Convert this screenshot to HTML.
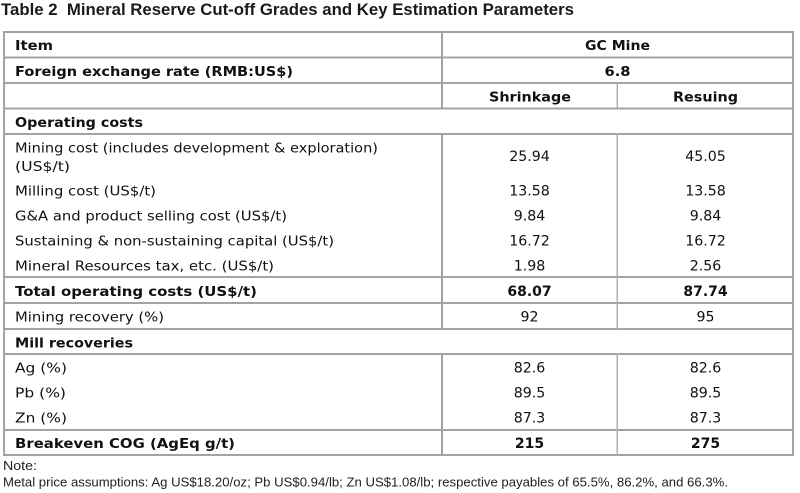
<!DOCTYPE html>
<html>
<head>
<meta charset="utf-8">
<style>
  html, body { margin:0; padding:0; background:#fff; }
  svg { display:block; }
  .t { font-family:"DejaVu Sans","Liberation Sans",sans-serif; font-size:13.5px; fill:#111; }
  .b { font-family:"DejaVu Sans","Liberation Sans",sans-serif; font-size:13.5px; font-weight:bold; fill:#111; }
  .n { font-family:"DejaVu Sans","Liberation Sans",sans-serif; font-size:14.2px; fill:#111; }
  .nb { font-family:"DejaVu Sans","Liberation Sans",sans-serif; font-size:14px; font-weight:bold; fill:#111; }
  .title { font-family:"Liberation Sans",sans-serif; font-size:16.5px; font-weight:bold; fill:#1a1a1a; }
  .note { font-family:"Liberation Sans",sans-serif; font-size:13px; fill:#222; }
</style>
</head>
<body>
<svg width="800" height="493" viewBox="0 0 800 493" xmlns="http://www.w3.org/2000/svg">
  <rect x="0" y="0" width="800" height="493" fill="#fff"/>

  <text class="title" x="1" y="15" textLength="573" lengthAdjust="spacingAndGlyphs">Table 2&#160; Mineral Reserve Cut-off Grades and Key Estimation Parameters</text>

  <!-- horizontal lines -->
  <g fill="#a3a3a3">
    <rect x="3" y="31" width="791" height="2"/>
    <rect x="3" y="56.5" width="791" height="2"/>
    <rect x="3" y="82" width="791" height="2"/>
    <rect x="3" y="107.5" width="791" height="2"/>
    <rect x="3" y="133" width="791" height="2"/>
    <rect x="3" y="276" width="791" height="2"/>
    <rect x="3" y="302" width="791" height="2"/>
    <rect x="3" y="328" width="791" height="2"/>
    <rect x="3" y="353" width="791" height="2"/>
    <rect x="3" y="429" width="791" height="2"/>
    <rect x="3" y="454" width="791" height="2"/>
    <!-- outer verticals -->
    <rect x="3" y="31" width="2" height="425"/>
    <rect x="792" y="31" width="2" height="425"/>
    <!-- col1 divider -->
    <rect x="441" y="31" width="2" height="77"/>
    <rect x="441" y="133" width="2" height="196"/>
    <rect x="441" y="353" width="2" height="103"/>
  </g>
  <g fill="#b0b0b0">
    <rect x="616.5" y="82" width="1.5" height="26"/>
    <rect x="616.5" y="133" width="1.5" height="196"/>
    <rect x="616.5" y="353" width="1.5" height="103"/>
  </g>

  <!-- header rows -->
  <text class="b" x="15" y="50" textLength="38" lengthAdjust="spacingAndGlyphs">Item</text>
  <text class="b" x="617.5" y="50" text-anchor="middle" textLength="65" lengthAdjust="spacingAndGlyphs">GC Mine</text>
  <text class="b" x="15" y="76" textLength="278" lengthAdjust="spacingAndGlyphs">Foreign exchange rate (RMB:US$)</text>
  <text class="b" x="617.5" y="76" text-anchor="middle" textLength="26" lengthAdjust="spacingAndGlyphs">6.8</text>
  <text class="b" x="530" y="101.5" text-anchor="middle" textLength="82" lengthAdjust="spacingAndGlyphs">Shrinkage</text>
  <text class="b" x="705.5" y="101.5" text-anchor="middle" textLength="65" lengthAdjust="spacingAndGlyphs">Resuing</text>
  <text class="b" x="15" y="127" textLength="128" lengthAdjust="spacingAndGlyphs">Operating costs</text>

  <!-- operating block -->
  <text class="t" x="15" y="152.5" textLength="363" lengthAdjust="spacingAndGlyphs">Mining cost (includes development &amp; exploration)</text>
  <text class="t" x="15" y="171" textLength="55" lengthAdjust="spacingAndGlyphs">(US$/t)</text>
  <text class="n" x="529.5" y="161" text-anchor="middle">25.94</text>
  <text class="n" x="705.5" y="161" text-anchor="middle">45.05</text>

  <text class="t" x="15" y="195.5" textLength="141" lengthAdjust="spacingAndGlyphs">Milling cost (US$/t)</text>
  <text class="n" x="529.5" y="195.5" text-anchor="middle">13.58</text>
  <text class="n" x="705.5" y="195.5" text-anchor="middle">13.58</text>

  <text class="t" x="15" y="220.5" textLength="272" lengthAdjust="spacingAndGlyphs">G&amp;A and product selling cost (US$/t)</text>
  <text class="n" x="529.5" y="220.5" text-anchor="middle">9.84</text>
  <text class="n" x="705.5" y="220.5" text-anchor="middle">9.84</text>

  <text class="t" x="15" y="245.5" textLength="319" lengthAdjust="spacingAndGlyphs">Sustaining &amp; non-sustaining capital (US$/t)</text>
  <text class="n" x="529.5" y="245.5" text-anchor="middle">16.72</text>
  <text class="n" x="705.5" y="245.5" text-anchor="middle">16.72</text>

  <text class="t" x="15" y="270.5" textLength="259" lengthAdjust="spacingAndGlyphs">Mineral Resources tax, etc. (US$/t)</text>
  <text class="n" x="529.5" y="270.5" text-anchor="middle">1.98</text>
  <text class="n" x="705.5" y="270.5" text-anchor="middle">2.56</text>

  <!-- totals -->
  <text class="b" x="15" y="296" textLength="242" lengthAdjust="spacingAndGlyphs">Total operating costs (US$/t)</text>
  <text class="nb" x="529.5" y="296" text-anchor="middle">68.07</text>
  <text class="nb" x="705.5" y="296" text-anchor="middle">87.74</text>

  <text class="t" x="15" y="321.5" textLength="149" lengthAdjust="spacingAndGlyphs">Mining recovery (%)</text>
  <text class="n" x="529.5" y="321.5" text-anchor="middle">92</text>
  <text class="n" x="705.5" y="321.5" text-anchor="middle">95</text>

  <text class="b" x="15" y="347.5" textLength="118" lengthAdjust="spacingAndGlyphs">Mill recoveries</text>

  <text class="t" x="15" y="372.5" textLength="52" lengthAdjust="spacingAndGlyphs">Ag (%)</text>
  <text class="n" x="529.5" y="372.5" text-anchor="middle">82.6</text>
  <text class="n" x="705.5" y="372.5" text-anchor="middle">82.6</text>

  <text class="t" x="15" y="397.5" textLength="51" lengthAdjust="spacingAndGlyphs">Pb (%)</text>
  <text class="n" x="529.5" y="397.5" text-anchor="middle">89.5</text>
  <text class="n" x="705.5" y="397.5" text-anchor="middle">89.5</text>

  <text class="t" x="15" y="422.5" textLength="52" lengthAdjust="spacingAndGlyphs">Zn (%)</text>
  <text class="n" x="529.5" y="422.5" text-anchor="middle">87.3</text>
  <text class="n" x="705.5" y="422.5" text-anchor="middle">87.3</text>

  <text class="b" x="15" y="448" textLength="220" lengthAdjust="spacingAndGlyphs">Breakeven COG (AgEq g/t)</text>
  <text class="nb" x="529.5" y="448" text-anchor="middle">215</text>
  <text class="nb" x="705.5" y="448" text-anchor="middle">275</text>

  <!-- notes -->
  <text class="note" x="3" y="470" textLength="34" lengthAdjust="spacingAndGlyphs">Note:</text>
  <text class="note" x="3" y="486.5" textLength="725" lengthAdjust="spacingAndGlyphs">Metal price assumptions: Ag US$18.20/oz; Pb US$0.94/lb; Zn US$1.08/lb; respective payables of 65.5%, 86.2%, and 66.3%.</text>
</svg>
</body>
</html>
